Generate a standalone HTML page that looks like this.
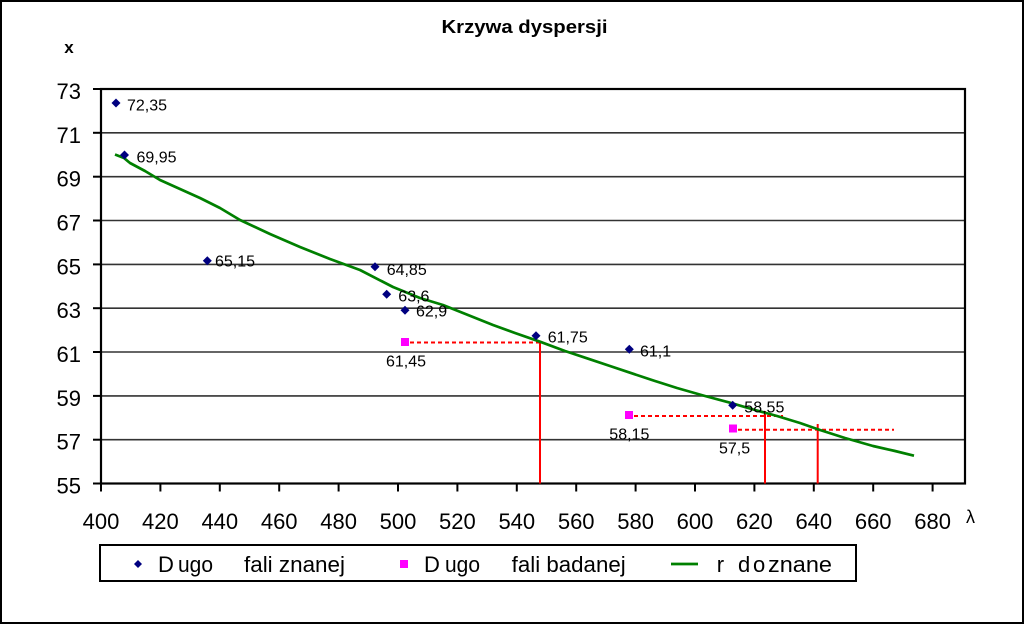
<!DOCTYPE html>
<html><head><meta charset="utf-8"><style>
html,body{margin:0;padding:0;background:#fff;}
svg{display:block;}
text{font-family:"Liberation Sans",Arial,sans-serif;fill:#000;}
</style></head><body>
<svg width="1025" height="625" viewBox="0 0 1025 625" xmlns="http://www.w3.org/2000/svg">
<rect x="0" y="0" width="1025" height="625" fill="#fff"/>
<rect x="1" y="1" width="1022" height="622" fill="none" stroke="#000" stroke-width="2"/>
<!-- title -->
<text x="524.5" y="33" font-size="18" font-weight="bold" text-anchor="middle" textLength="166" lengthAdjust="spacingAndGlyphs">Krzywa dyspersji</text>
<text x="69" y="53" font-size="17" font-weight="bold" text-anchor="middle">x</text>
<!-- gridlines -->
<g stroke="#333" stroke-width="1.6">
<line x1="101" y1="132.8" x2="965" y2="132.8"/>
<line x1="101" y1="176.7" x2="965" y2="176.7"/>
<line x1="101" y1="220.5" x2="965" y2="220.5"/>
<line x1="101" y1="264.4" x2="965" y2="264.4"/>
<line x1="101" y1="308.2" x2="965" y2="308.2"/>
<line x1="101" y1="352.0" x2="965" y2="352.0"/>
<line x1="101" y1="395.9" x2="965" y2="395.9"/>
<line x1="101" y1="439.7" x2="965" y2="439.7"/>
</g>
<!-- frame -->
<rect x="101" y="89" width="864" height="394.5" fill="none" stroke="#000" stroke-width="2.2"/>
<!-- y ticks -->
<g stroke="#000" stroke-width="2">
<line x1="93" y1="89" x2="101" y2="89"/>
<line x1="93" y1="132.8" x2="101" y2="132.8"/>
<line x1="93" y1="176.7" x2="101" y2="176.7"/>
<line x1="93" y1="220.5" x2="101" y2="220.5"/>
<line x1="93" y1="264.4" x2="101" y2="264.4"/>
<line x1="93" y1="308.2" x2="101" y2="308.2"/>
<line x1="93" y1="352.0" x2="101" y2="352.0"/>
<line x1="93" y1="395.9" x2="101" y2="395.9"/>
<line x1="93" y1="439.7" x2="101" y2="439.7"/>
<line x1="93" y1="483.5" x2="101" y2="483.5"/>
</g>
<!-- x ticks -->
<g stroke="#000" stroke-width="2">
<line x1="101" y1="483.5" x2="101" y2="491.5"/>
<line x1="160.4" y1="483.5" x2="160.4" y2="491.5"/>
<line x1="219.8" y1="483.5" x2="219.8" y2="491.5"/>
<line x1="279.2" y1="483.5" x2="279.2" y2="491.5"/>
<line x1="338.6" y1="483.5" x2="338.6" y2="491.5"/>
<line x1="398" y1="483.5" x2="398" y2="491.5"/>
<line x1="457.4" y1="483.5" x2="457.4" y2="491.5"/>
<line x1="516.8" y1="483.5" x2="516.8" y2="491.5"/>
<line x1="576.2" y1="483.5" x2="576.2" y2="491.5"/>
<line x1="635.6" y1="483.5" x2="635.6" y2="491.5"/>
<line x1="695" y1="483.5" x2="695" y2="491.5"/>
<line x1="754.4" y1="483.5" x2="754.4" y2="491.5"/>
<line x1="813.8" y1="483.5" x2="813.8" y2="491.5"/>
<line x1="873.2" y1="483.5" x2="873.2" y2="491.5"/>
<line x1="932.6" y1="483.5" x2="932.6" y2="491.5"/>
</g>
<!-- y labels -->
<g font-size="22" text-anchor="end">
<text x="81" y="99">73</text>
<text x="81" y="142.8">71</text>
<text x="81" y="186.7">69</text>
<text x="81" y="230.5">67</text>
<text x="81" y="274.4">65</text>
<text x="81" y="318.2">63</text>
<text x="81" y="362">61</text>
<text x="81" y="405.9">59</text>
<text x="81" y="449.7">57</text>
<text x="81" y="493.5">55</text>
</g>
<!-- x labels -->
<g font-size="22" text-anchor="middle">
<text x="101" y="529">400</text>
<text x="160.4" y="529">420</text>
<text x="219.8" y="529">440</text>
<text x="279.2" y="529">460</text>
<text x="338.6" y="529">480</text>
<text x="398" y="529">500</text>
<text x="457.4" y="529">520</text>
<text x="516.8" y="529">540</text>
<text x="576.2" y="529">560</text>
<text x="635.6" y="529">580</text>
<text x="695" y="529">600</text>
<text x="754.4" y="529">620</text>
<text x="813.8" y="529">640</text>
<text x="873.2" y="529">660</text>
<text x="932.6" y="529">680</text>
</g>
<text x="966" y="523" font-size="18">λ</text>
<!-- red construction lines -->
<g stroke="#ff0000" stroke-width="2" fill="none">
<line x1="410" y1="342.5" x2="540" y2="342.5" stroke-dasharray="4,3"/>
<line x1="634" y1="416" x2="783" y2="416" stroke-dasharray="4,3"/>
<line x1="738" y1="429.7" x2="894" y2="429.7" stroke-dasharray="4,3"/>
<line x1="540" y1="342.5" x2="540" y2="483.5"/>
<line x1="765" y1="411" x2="765" y2="483.5"/>
<line x1="817.7" y1="424" x2="817.7" y2="483.5"/>
</g>
<!-- green curve -->
<polyline fill="none" stroke="#008000" stroke-width="2.7" stroke-linejoin="round" points="115,154.5 124,158 130,163 145,171 160,180 180,189 200,198 220,208 240,220 270,234 300,247 330,259 360,270 393,287 420,298 443,305 468,315 493,325 515,333 540,341.7 565,351 590,359.3 610,366 630,372.7 655,381 677,388 705,396 730,402.7 755,410 777,416 800,423 820,430 845,438 873,446 895,451 914,455.7"/>
<!-- known points (navy diamonds) -->
<g fill="#000080">
<path d="M116,98.5 l4.5,4.5 l-4.5,4.5 l-4.5,-4.5z"/>
<path d="M124.5,150.5 l4.5,4.5 l-4.5,4.5 l-4.5,-4.5z"/>
<path d="M207.3,256.2 l4.5,4.5 l-4.5,4.5 l-4.5,-4.5z"/>
<path d="M375,262.2 l4.5,4.5 l-4.5,4.5 l-4.5,-4.5z"/>
<path d="M386.7,289.8 l4.5,4.5 l-4.5,4.5 l-4.5,-4.5z"/>
<path d="M405,305.8 l4.5,4.5 l-4.5,4.5 l-4.5,-4.5z"/>
<path d="M536,331.2 l4.5,4.5 l-4.5,4.5 l-4.5,-4.5z"/>
<path d="M629.3,344.8 l4.5,4.5 l-4.5,4.5 l-4.5,-4.5z"/>
<path d="M732.7,400.8 l4.5,4.5 l-4.5,4.5 l-4.5,-4.5z"/>
</g>
<!-- unknown points (magenta squares) -->
<g fill="#ff00ff">
<rect x="401" y="338" width="8" height="8"/>
<rect x="625" y="411" width="8" height="8"/>
<rect x="729" y="424.5" width="8" height="8"/>
</g>
<!-- data labels -->
<g font-size="16" fill="#111">
<text x="127" y="110.5">72,35</text>
<text x="136.5" y="162.3">69,95</text>
<text x="215" y="266.7">65,15</text>
<text x="386.7" y="275">64,85</text>
<text x="398.3" y="301.7">63,6</text>
<text x="416" y="316.7">62,9</text>
<text x="547.7" y="342.3">61,75</text>
<text x="386" y="366.7">61,45</text>
<text x="640" y="356.7">61,1</text>
<text x="744.3" y="412.3">58,55</text>
<text x="609.3" y="439.3">58,15</text>
<text x="719" y="453.3">57,5</text>
</g>
<!-- legend -->
<rect x="100" y="545" width="756" height="36" fill="#fff" stroke="#000" stroke-width="2"/>
<path d="M138,560 l4,4 l-4,4 l-4,-4z" fill="#000080"/>
<rect x="400" y="560" width="8" height="8" fill="#ff00ff"/>
<line x1="671" y1="564" x2="698" y2="564" stroke="#008000" stroke-width="2.7"/>
<g font-size="22">
<text x="158" y="572">D</text>
<text x="178" y="572" textLength="35" lengthAdjust="spacingAndGlyphs">ugo</text>
<text x="244" y="572" textLength="101" lengthAdjust="spacingAndGlyphs">fali znanej</text>
<text x="424" y="572">D</text>
<text x="445" y="572" textLength="35" lengthAdjust="spacingAndGlyphs">ugo</text>
<text x="511.7" y="572" textLength="114" lengthAdjust="spacingAndGlyphs">fali badanej</text>
<text x="716.7" y="572">r</text>
<text x="738" y="572">d</text>
<text x="753" y="572">o</text>
<text x="768" y="572" textLength="64" lengthAdjust="spacingAndGlyphs">znane</text>
</g>
</svg>
</body></html>
